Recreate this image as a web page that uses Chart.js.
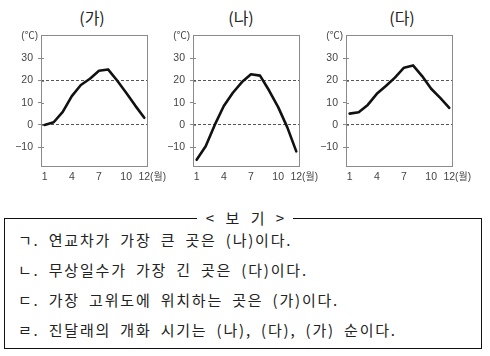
<!DOCTYPE html>
<html><head><meta charset="utf-8">
<script src="https://cdn.jsdelivr.net/npm/chart.js@4"></script>
<style>
html,body{margin:0;padding:0;background:#fff;}
body{width:490px;height:356px;position:relative;overflow:hidden;font-family:"Noto Sans CJK KR",sans-serif;}
canvas{position:absolute;top:0;}
.ttl{position:absolute;top:7px;font-size:16px;color:#222;transform:translateX(-50%);white-space:nowrap;line-height:20px;}
#box{position:absolute;left:4px;top:218px;width:478px;height:131px;border:1px solid #111;box-sizing:border-box;}
#bogi{position:absolute;left:197px;top:208px;width:96px;height:20px;background:#fff;text-align:center;font-size:15px;line-height:20px;word-spacing:8px;color:#222;}
.ln{position:absolute;left:18px;font-size:15px;line-height:20px;color:#222;letter-spacing:1.8px;word-spacing:4px;white-space:nowrap;}
</style></head>
<body>
<div class="ttl" id="t0" style="left:92px"></div>
<div class="ttl" id="t1" style="left:241px"></div>
<div class="ttl" id="t2" style="left:402px"></div>
<canvas id="c0" width="171" height="195" style="left:0px"></canvas>
<canvas id="c1" width="171" height="195" style="left:152px"></canvas>
<canvas id="c2" width="171" height="195" style="left:305px"></canvas>
<div id="box"></div>
<div id="bogi"></div>
<div class="ln" id="l0" style="top:230px"></div>
<div class="ln" id="l1" style="top:260px"></div>
<div class="ln" id="l2" style="top:290px"></div>
<div class="ln" id="l3" style="top:320px"></div>
<script>
// ---- data ----
const titles = ['(가)', '(나)', '(다)'];
const months = [1,2,3,4,5,6,7,8,9,10,11,12];
const tempGa = [0, 1.2, 5.9, 13, 18, 20.8, 24.4, 25, 20, 14.5, 8.7, 3.2];
const tempNa = [-15.7, -9.6, 0, 8.5, 14.5, 19.3, 22.8, 22.2, 15.5, 8, -1, -11.9];
const tempDa = [5.1, 5.7, 9, 14, 17.5, 21.3, 25.8, 26.8, 22, 16.3, 12.2, 7.7];
const xTicks = [1, 4, 7, 10, 12];
const xTickLabels = ['1', '4', '7', '10', '12'];
const yTicks = [30, 20, 10, 0, -10];
const yTickLabels = ['30', '20', '10', '0', '\u221210'];
const gridValues = [0, 20];
const yUnit = '(\u2103)';
const xUnit = '(월)';
const bogiTitle = '< 보 기 >';
const bogiLines = [
  'ㄱ. 연교차가 가장 큰 곳은 (나)이다.',
  'ㄴ. 무상일수가 가장 긴 곳은 (다)이다.',
  'ㄷ. 가장 고위도에 위치하는 곳은 (가)이다.',
  'ㄹ. 진달래의 개화 시기는 (나), (다), (가) 순이다.'
];
const xMin = 0.6, xMax = 12.3, yMin = -18.5, yMax = 40.5;

// ---- text ----
titles.forEach((t,i)=>document.getElementById('t'+i).textContent=t);
document.getElementById('bogi').textContent = bogiTitle;
bogiLines.forEach((t,i)=>document.getElementById('l'+i).textContent=t);

const tickFont = {family:'"Liberation Sans","Noto Sans CJK KR"', size:10.5};
const boxPlugin = {
  id:'boxFrame',
  beforeDatasetsDraw(chart){
    const {ctx, chartArea:a} = chart;
    ctx.save();
    ctx.strokeStyle = '#8a8a8a'; ctx.lineWidth = 1;
    const l = Math.round(a.left)+0.5, t = Math.round(a.top)+0.5;
    ctx.strokeRect(l, t, Math.round(a.right)-Math.round(a.left), Math.round(a.bottom)-Math.round(a.top));
    const ys = chart.scales.y;
    yTicks.forEach(v=>{
      const py = Math.round(ys.getPixelForValue(v))+0.5;
      ctx.beginPath(); ctx.moveTo(l, py); ctx.lineTo(l+2.5, py); ctx.stroke();
    });
    ctx.restore();
  },
  afterDraw(chart){
    const {ctx, chartArea:a, scales:{x}} = chart;
    ctx.save();
    ctx.fillStyle = '#444';
    ctx.textBaseline = 'middle';
    ctx.font = '10px "Liberation Sans","Noto Sans CJK KR"';
    ctx.textAlign = 'right';
    ctx.fillText(yUnit, a.left-3, a.top+1);
    ctx.font = '10.5px "Liberation Sans","Noto Sans CJK KR"';
    const w = ctx.measureText(xTickLabels[xTickLabels.length-1]).width;
    ctx.font = '10px "Liberation Sans","Noto Sans CJK KR"';
    ctx.textAlign = 'left';
    ctx.fillText(xUnit, x.getPixelForValue(xTicks[xTicks.length-1]) + w/2, a.bottom + 11.3);
    ctx.restore();
  }
};

function makeChart(id, vals){
  return new Chart(document.getElementById(id), {
    type:'line',
    data:{datasets:[{
      data: months.map((m,i)=>({x:m, y:vals[i]})),
      borderColor:'#111', borderWidth:2.6, pointRadius:0, tension:0,
      borderJoinStyle:'round', borderCapStyle:'round', fill:false
    }]},
    options:{
      responsive:false, animation:false, devicePixelRatio:1,
      layout:{padding:{left:0, right:24, top:35, bottom:0}},
      plugins:{legend:{display:false}, tooltip:{enabled:false}, title:{display:false}},
      scales:{
        x:{
          type:'linear', min:xMin, max:xMax,
          afterBuildTicks:s=>{ s.ticks = xTicks.map(v=>({value:v})); },
          afterFit:s=>{ s.height = 29; },
          grid:{display:false, drawTicks:false},
          border:{display:false},
          ticks:{padding:5, font:tickFont, color:'#444', autoSkip:false, maxRotation:0,
            callback:v=>xTickLabels[xTicks.indexOf(v)]}
        },
        y:{
          type:'linear', min:yMin, max:yMax,
          afterBuildTicks:s=>{ s.ticks = yTicks.map(v=>({value:v})); },
          afterFit:s=>{ s.width = 41; },
          grid:{
            color:c=> (c.tick && gridValues.includes(c.tick.value)) ? '#555' : 'rgba(0,0,0,0)',
            lineWidth:1, tickColor:'#8a8a8a', tickLength:3, drawTicks:true
          },
          border:{display:false, dash:[3,2]},
          ticks:{padding:5, font:tickFont, color:'#444',
            callback:v=>yTickLabels[yTicks.indexOf(v)]}
        }
      }
    },
    plugins:[boxPlugin]
  });
}
makeChart('c0', tempGa);
makeChart('c1', tempNa);
makeChart('c2', tempDa);
</script>
</body></html>
